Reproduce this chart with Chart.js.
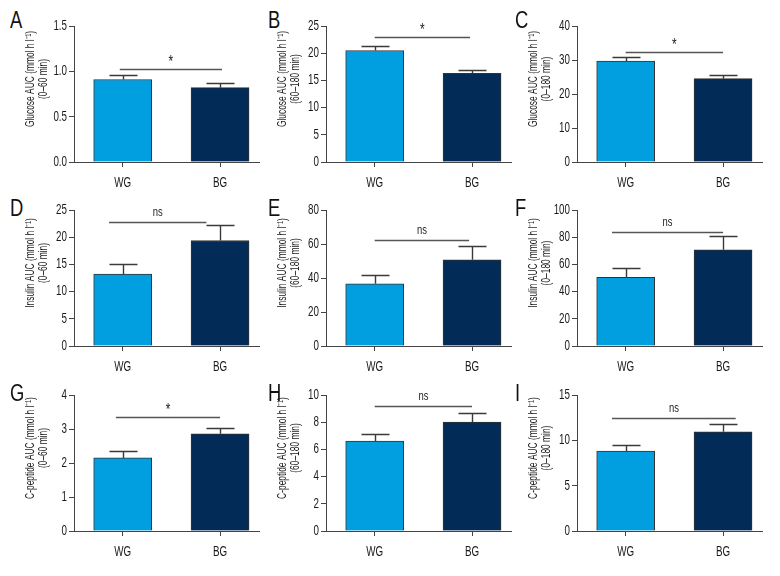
<!DOCTYPE html>
<html lang="en">
<head>
  <meta charset="UTF-8">
  <title>AUC – WG vs BG</title>
  <style>
    body { margin: 0; background: #fff; }
    #page { position: relative; width: 780px; height: 576px; overflow: hidden; background: #fff; }
    #page canvas { position: absolute; }
    .letter { position: absolute; font: 23px 'Liberation Sans', Arial, sans-serif; line-height: 1; color: #111;
              transform: scaleX(0.8); transform-origin: left top; }
  </style>
  <script src="https://cdn.jsdelivr.net/npm/chart.js"></script>
</head>
<body>
  <div id="page"></div>

  <script>
    // groups on the x axis
    const groups = ['WG', 'BG'];

    // one entry per panel, A..I
    const letters = ['A', 'B', 'C', 'D', 'E', 'F', 'G', 'H', 'I'];
    const titleTop = [
      'Glucose AUC (mmol h l\u207B\u00B9)', 'Glucose AUC (mmol h l\u207B\u00B9)', 'Glucose AUC (mmol h l\u207B\u00B9)',
      'Insulin AUC (mmol h l\u207B\u00B9)', 'Insulin AUC (mmol h l\u207B\u00B9)', 'Insulin AUC (mmol h l\u207B\u00B9)',
      'C-peptide AUC (mmol h l\u207B\u00B9)', 'C-peptide AUC (mmol h l\u207B\u00B9)', 'C-peptide AUC (mmol h l\u207B\u00B9)'
    ];
    const titleBottom = [
      '(0\u201360 min)', '(60\u2013180 min)', '(0\u2013180 min)',
      '(0\u201360 min)', '(60\u2013180 min)', '(0\u2013180 min)',
      '(0\u201360 min)', '(60\u2013180 min)', '(0\u2013180 min)'
    ];

    // bar heights and error (upper SEM)
    const wgMean = [0.91, 20.5, 29.7, 13.2, 36.6, 50.5, 2.15, 6.62, 8.82];
    const wgSem  = [0.045, 0.8, 1.2, 1.9, 5.3, 7.0, 0.21, 0.54, 0.67];
    const bgMean = [0.82, 16.3, 24.5, 19.4, 50.7, 70.7, 2.86, 8.01, 10.95];
    const bgSem  = [0.05, 0.7, 1.0, 2.8, 8.3, 9.9, 0.18, 0.64, 0.82];

    // y axis
    const yMax  = [1.5, 25, 40, 25, 80, 100, 4, 10, 15];
    const yStep = [0.5, 5, 10, 5, 20, 20, 1, 2, 5];

    // significance bracket: level (data units), span (group units), label
    const sigLevel = [1.03, 22.9, 32.5, 22.8, 62.5, 84, 3.35, 9.19, 12.43];
    const sigFrom  = [-0.03, 0, 0, -0.14, 0, -0.14, -0.07, 0, -0.14];
    const sigTo    = [1.02, 0.98, 1.0, 0.86, 0.97, 1.0, 1.0, 1.0, 1.13];
    const sigText  = ['*', '*', '*', 'ns', 'ns', 'ns', '*', 'ns', 'ns'];

    const FONT = "'Liberation Sans', Arial, sans-serif";
    const NARROW = 0.7;   // horizontal squeeze to imitate the condensed face
    const WG_COLOR = '#019fe0';
    const BG_COLOR = '#022b57';
    const AXIS = '#444';
    const INK = '#1a1a1a';

    Chart.defaults.font.family = FONT;

    // canvas placement: columns and rows
    const colLeft = [0, 252, 503];
    const rowTop = [0, 184, 369];
    const letterLeft = [10, 268, 515];
    const letterTop = [9, 197, 382];

    // draw squeezed text, optionally rotated
    function narrowText(ctx, str, x, y, size, align, rot) {
      ctx.save();
      ctx.font = size + 'px ' + FONT;
      ctx.fillStyle = INK;
      ctx.textAlign = align;
      ctx.textBaseline = 'middle';
      ctx.translate(x, y);
      if (rot) ctx.rotate(rot);
      ctx.scale(NARROW, 1);
      ctx.fillText(str, 0, 0);
      ctx.restore();
    }

    // tick labels, error bars, bracket and axis title
    const decor = {
      id: 'decor',
      afterDatasetsDraw(chart, args, opts) {
        const i = opts.index;
        const { ctx, chartArea: a, scales: { x, y } } = chart;
        ctx.save();

        // y tick labels
        y.ticks.forEach(t => {
          const lab = yStep[i] < 1 ? t.value.toFixed(1) : String(t.value);
          narrowText(ctx, lab, a.left - 7, y.getPixelForValue(t.value), 14, 'right');
        });
        // x tick labels
        groups.forEach((g, k) => {
          narrowText(ctx, g, x.getPixelForValue(k), a.bottom + 21, 14, 'center');
        });

        // error bars (upper only)
        const means = [wgMean[i], bgMean[i]];
        const errs = [wgSem[i], bgSem[i]];
        ctx.strokeStyle = '#3a3a3a';
        ctx.lineWidth = 1.4;
        means.forEach((m, k) => {
          const px = Math.round(x.getPixelForValue(k)) + 0.5;
          const top = y.getPixelForValue(m);
          const end = Math.round(y.getPixelForValue(m + errs[k])) + 0.5;
          ctx.beginPath();
          ctx.moveTo(px, top);
          ctx.lineTo(px, end);
          ctx.moveTo(px - 14, end);
          ctx.lineTo(px + 14, end);
          ctx.stroke();
        });

        // significance line
        const ly = Math.round(y.getPixelForValue(sigLevel[i])) + 0.5;
        const x1 = x.getPixelForValue(sigFrom[i]);
        const x2 = x.getPixelForValue(sigTo[i]);
        ctx.strokeStyle = '#555';
        ctx.lineWidth = 1.4;
        ctx.beginPath();
        ctx.moveTo(x1, ly);
        ctx.lineTo(x2, ly);
        ctx.stroke();
        if (sigText[i] === '*') {
          narrowText(ctx, '*', (x1 + x2) / 2, ly - 7, 17, 'center');
        } else {
          narrowText(ctx, 'ns', (x1 + x2) / 2, ly - 10, 13.5, 'center');
        }

        // rotated two-line axis title
        const cy = (a.top + a.bottom) / 2 - 15;
        narrowText(ctx, titleTop[i], a.left - 43, cy, 12, 'center', -Math.PI / 2);
        narrowText(ctx, titleBottom[i], a.left - 30, cy, 12, 'center', -Math.PI / 2);
        ctx.restore();
      }
    };

    const page = document.getElementById('page');

    letters.forEach((letter, i) => {
      const col = i % 3, row = Math.floor(i / 3);

      const lab = document.createElement('div');
      lab.className = 'letter';
      lab.textContent = letter;
      lab.style.left = letterLeft[col] + 'px';
      lab.style.top = letterTop[row] + 'px';
      page.appendChild(lab);

      const cv = document.createElement('canvas');
      cv.width = 261;
      cv.height = 190;
      cv.style.left = colLeft[col] + 'px';
      cv.style.top = rowTop[row] + 'px';
      page.appendChild(cv);

      new Chart(cv, {
        type: 'bar',
        data: {
          datasets: [{
            data: [{ x: 0, y: wgMean[i] }, { x: 1, y: bgMean[i] }],
            backgroundColor: [WG_COLOR, BG_COLOR],
            borderColor: '#333',
            borderWidth: 1,
            barThickness: 58
          }]
        },
        options: {
          responsive: false,
          animation: false,
          events: [],
          layout: { padding: { left: 0, top: 26, right: 2, bottom: 0 } },
          plugins: {
            legend: { display: false },
            tooltip: { enabled: false },
            decor: { index: i }
          },
          scales: {
            x: {
              type: 'linear',
              offset: false,
              min: -0.5,
              max: 1.4,
              afterBuildTicks: s => { s.ticks = [{ value: 0 }, { value: 1 }]; },
              afterFit: s => { s.height = 28; },
              grid: { offset: false, drawOnChartArea: false, drawTicks: true, tickLength: 5, color: AXIS },
              border: { color: AXIS, width: 1 },
              ticks: { display: false }
            },
            y: {
              min: 0,
              max: yMax[i],
              afterFit: s => { s.width = 74; },
              grid: { drawOnChartArea: false, drawTicks: true, tickLength: 5, color: AXIS },
              border: { color: AXIS, width: 1 },
              ticks: { display: false, stepSize: yStep[i] }
            }
          }
        },
        plugins: [decor]
      });
    });
  </script>
</body>
</html>
